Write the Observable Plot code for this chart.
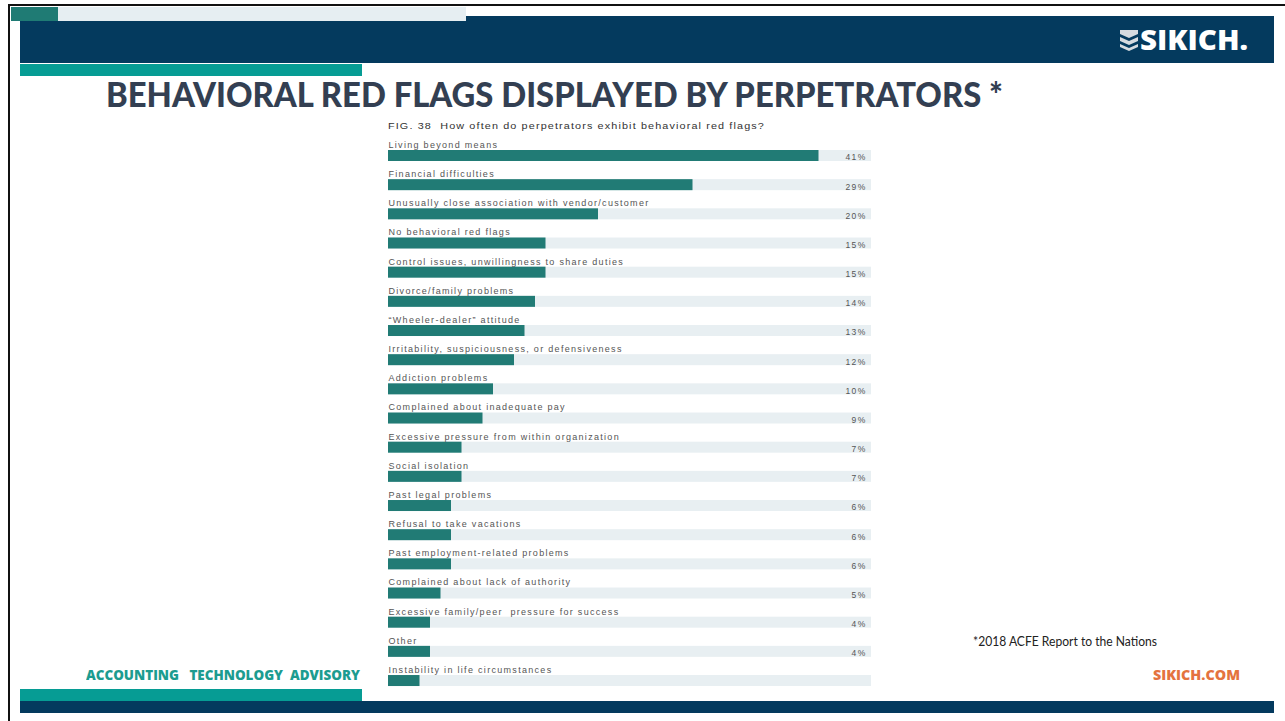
<!DOCTYPE html>
<html><head><meta charset="utf-8">
<script src="https://cdn.jsdelivr.net/npm/d3@7"></script>
<script src="https://cdn.jsdelivr.net/npm/@observablehq/plot@0.6"></script>
<style>
html,body{margin:0;padding:0;background:#fff}
body{width:1285px;height:721px;overflow:hidden;position:relative;font-family:"Liberation Sans",Arial,sans-serif}
.abs{position:absolute}
.fit{white-space:pre;display:inline-block;transform-origin:0 0}
#chart svg{display:block}
</style></head><body>
<!-- frame -->
<div class="abs" style="left:8px;top:4px;width:1277px;height:2px;background:#111"></div>
<div class="abs" style="left:8px;top:4px;width:2px;height:717px;background:#111"></div>
<!-- header -->
<div class="abs" style="left:20px;top:16px;width:1254px;height:47px;background:#043a5e"></div>
<div class="abs" style="left:11px;top:7px;width:47px;height:14px;background:#1f7b74"></div>
<div class="abs" style="left:58px;top:7px;width:408px;height:14px;background:#e6eef2"></div>
<div class="abs" style="left:20px;top:64px;width:342px;height:12px;background:#069c94"></div>
<svg class="abs" style="left:1120px;top:30px" width="18" height="21" viewBox="0 0 18 21">
  <path d="M0,0 H18 V4 L9,8 L0,4 Z" fill="#d6dbe0"/>
  <path d="M0,7 L9,11 L18,7 V11 L9,15 L0,11 Z" fill="#d6dbe0"/>
  <path d="M0,14 L9,18 L18,14 V17 L9,21 L0,17 Z" fill="#d6dbe0"/>
</svg>
<div class="abs fit" id="logo" data-w="108" style="left:1140px;top:24px;font-family:'Open Sans';font-weight:800;font-size:29px;line-height:29px;color:#fff">SIKICH.</div>
<!-- title -->
<div class="abs fit" id="title" data-w="897" style="left:106px;top:77px;font-family:Lato;font-weight:900;font-size:34px;line-height:34px;color:#333f52">BEHAVIORAL RED FLAGS DISPLAYED BY PERPETRATORS *</div>
<!-- chart title -->
<div class="abs fit" id="fig" data-w="377" style="left:388px;top:121px;font-size:9.5px;line-height:10px;letter-spacing:1px;color:#333">FIG. 38  How often do perpetrators exhibit behavioral red flags?</div>
<div class="abs" id="chart" style="left:380px;top:130px"></div>
<!-- footnote & footer -->
<div class="abs fit" id="note" data-w="184" style="left:973px;top:635px;font-family:Lato;font-size:12.5px;line-height:14px;color:#222">*2018 ACFE Report to the Nations</div>
<div class="abs fit" id="acc" data-w="274" style="left:86px;top:667px;font-family:'Open Sans';font-weight:800;font-size:14px;line-height:16px;color:#1c9c90">ACCOUNTING   TECHNOLOGY  ADVISORY</div>
<div class="abs fit" id="web" data-w="87" style="left:1153px;top:667px;font-family:'Open Sans';font-weight:800;font-size:14px;line-height:16px;color:#e4733f">SIKICH.COM</div>
<div class="abs" style="left:20px;top:689px;width:342px;height:12px;background:#069c94"></div>
<div class="abs" style="left:20px;top:701px;width:1254px;height:12px;background:#043a5e"></div>
<script>
const categories = [
  "Living beyond means",
  "Financial difficulties",
  "Unusually close association with vendor/customer",
  "No behavioral red flags",
  "Control issues, unwillingness to share duties",
  "Divorce/family problems",
  "\u201cWheeler-dealer\u201d attitude",
  "Irritability, suspiciousness, or defensiveness",
  "Addiction problems",
  "Complained about inadequate pay",
  "Excessive pressure from within organization",
  "Social isolation",
  "Past legal problems",
  "Refusal to take vacations",
  "Past employment-related problems",
  "Complained about lack of authority",
  "Excessive family/peer  pressure for success",
  "Other",
  "Instability in life circumstances"
];
const values = [41, 29, 20, 15, 15, 14, 13, 12, 10, 9, 7, 7, 6, 6, 6, 5, 4, 4, 3];
const valueLabels = ["41%", "29%", "20%", "15%", "15%", "14%", "13%", "12%", "10%", "9%", "7%", "7%", "6%", "6%", "6%", "5%", "4%", "4%", ""];
const trackMax = 46;

const rows = categories.map((c, i) => ({cat: c, value: values[i], label: valueLabels[i]}));
const inset = {insetTop: 12, insetBottom: 6.17};

const chart = Plot.plot({
  width: 500,
  height: 570,
  margin: 0,
  x: {domain: [0, trackMax], range: [8, 491], axis: null},
  y: {domain: categories, range: [8, 562.2], padding: 0, round: false, axis: null},
  style: {fontFamily: "'Liberation Sans', Arial, sans-serif", fontSize: "9px", letterSpacing: "1.3px", overflow: "visible", background: "transparent"},
  marks: [
    Plot.barX(rows, {x1: 0, x2: trackMax, y: "cat", fill: "#e8eff2", ...inset}),
    Plot.barX(rows, {x: "value", y: "cat", fill: "#217b75", ...inset}),
    Plot.text(rows, {x: 0, y: "cat", text: "cat", textAnchor: "start", dy: -8.1, fill: "#555", fontSize: 9}),
    Plot.text(rows, {x: trackMax, y: "cat", text: "label", textAnchor: "end", dx: -5, dy: 4.6, fill: "#555", fontSize: 8.5})
  ]
});
document.getElementById("chart").appendChild(chart);

document.querySelectorAll(".fit").forEach(el => {
  const w = el.getBoundingClientRect().width;
  const target = +el.dataset.w;
  if (w > 0) el.style.transform = `scaleX(${target / w})`;
});
</script>
</body></html>
